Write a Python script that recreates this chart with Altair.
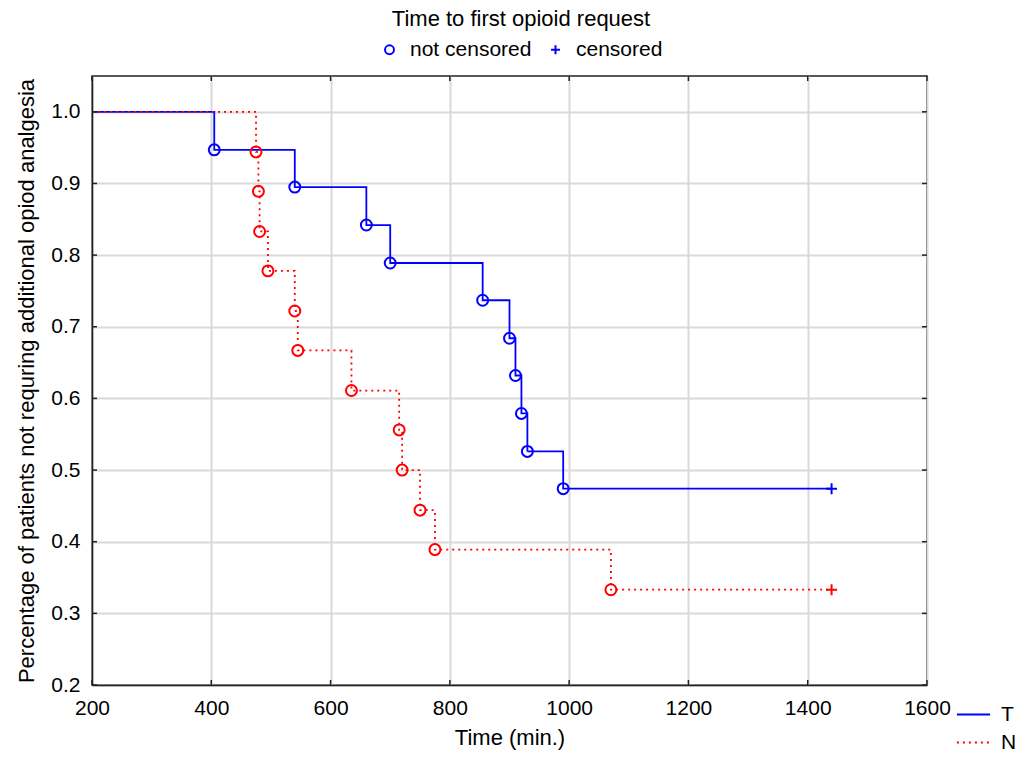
import altair as alt
import pandas as pd

# ---- data ----
x_ticks = [200, 400, 600, 800, 1000, 1200, 1400, 1600]
y_ticks = [0.2, 0.3, 0.4, 0.5, 0.6, 0.7, 0.8, 0.9, 1.0]

series_names = ["T", "N"]
start_time = 200
censor_time = 1440

T_times = [405, 540, 660, 700, 855, 900, 910, 920, 930, 990]
T_surv = [0.947, 0.895, 0.842, 0.789, 0.737, 0.684, 0.632, 0.579, 0.526, 0.474]

N_times = [475, 479, 481, 495, 540, 545, 635, 715, 720, 750, 775, 1070]
N_surv = [0.944, 0.889, 0.833, 0.778, 0.722, 0.667, 0.611, 0.556, 0.500, 0.444, 0.389, 0.333]

status_names = ["not censored", "censored"]

# ---- tables ----
line_rows, point_rows = [], []
for name, times, surv in [("T", T_times, T_surv), ("N", N_times, N_surv)]:
    line_rows.append(dict(series=name, time=start_time, surv=1.0))
    for t, s in zip(times, surv):
        line_rows.append(dict(series=name, time=t, surv=s))
        point_rows.append(dict(series=name, time=t, surv=s, status="not censored"))
    line_rows.append(dict(series=name, time=censor_time, surv=surv[-1]))
    point_rows.append(dict(series=name, time=censor_time, surv=surv[-1], status="censored"))
line_df = pd.DataFrame(line_rows)
point_df = pd.DataFrame(point_rows)
xt_df = pd.DataFrame({"time": x_ticks})
yt_df = pd.DataFrame({"surv": y_ticks})

W, H = 835, 609
FONT = "Liberation Sans"
FS = 21
TFS = 22

x_scale = alt.Scale(domain=[200, 1600], nice=False, zero=False)
y_scale = alt.Scale(domain=[0.2, 1.05], nice=False, zero=False)
color_scale = alt.Scale(domain=series_names, range=["#0000ff", "#ff0000"])
dash_scale = alt.Scale(domain=series_names, range=[[1, 0], [2, 4]])

axis_style = dict(labelFont=FONT, titleFont=FONT, labelFontSize=FS, titleFontSize=TFS,
                  labelColor="black", titleColor="black", titleFontWeight="normal",
                  domainColor="#222222", domainWidth=1.5, labelFlush=False,
                  gridColor="#d9d9d9", gridWidth=2, tickSize=0, grid=True)

x_axis = alt.Axis(values=x_ticks, title="Time (min.)", labelPadding=12, titlePadding=9,
                  format="d", **axis_style)
y_axis = alt.Axis(values=y_ticks, title="Percentage of patients not requring additional opiod analgesia",
                  labelPadding=12, titlePadding=12, format=".1f", labelLimit=300, titleLimit=800,
                  **axis_style)

series_legend = alt.Legend(title=None, orient="none", legendX=864, legendY=621,
                           symbolType="stroke", symbolSize=1100, symbolStrokeWidth=1.8,
                           labelFont=FONT, labelColor="black",
                           labelFontSize=FS, labelOffset=10, rowPadding=-7)

X = alt.X("time:Q", scale=x_scale, axis=x_axis)
Y = alt.Y("surv:Q", scale=y_scale, axis=y_axis)

def line_layer(name):
    return alt.Chart(line_df).transform_filter(alt.datum.series == name).mark_line(
        interpolate="step-after", strokeWidth=1.8
    ).encode(
        x=X, y=Y,
        color=alt.Color("series:N", scale=color_scale, legend=series_legend),
        strokeDash=alt.StrokeDash("series:N", scale=dash_scale, legend=series_legend),
    )

plus_path = "M-1,0L1,0M0,-1L0,1"
points = alt.Chart(point_df).mark_point(filled=False, strokeWidth=2, opacity=1).encode(
    x=X, y=Y,
    color=alt.Color("series:N", scale=color_scale, legend=None),
    shape=alt.Shape("status:N", scale=alt.Scale(domain=status_names, range=["circle", plus_path]),
                    legend=alt.Legend(title="Time to first opioid request", orient="none",
                                      direction="horizontal", legendX=287, legendY=-67,
                                      titleAnchor="middle", titleFontSize=TFS, titlePadding=8,
                                      titleFont=FONT, titleFontWeight="normal", titleColor="black",
                                      titleLimit=600, labelLimit=300,
                                      labelFont=FONT, labelColor="black",
                                      labelFontSize=FS, symbolSize=80, symbolStrokeWidth=2,
                                      symbolStrokeColor="#0000ff", symbolFillColor="transparent",
                                      labelOffset=10, columnPadding=13)),
    size=alt.value(120),
)

tick_style = dict(color="#222222", strokeWidth=1.5)
bottom_ticks = alt.Chart(xt_df).mark_rule(**tick_style).encode(
    x=X, y=alt.value(H), y2=alt.value(H - 5))
top_ticks = alt.Chart(xt_df).mark_rule(**tick_style).encode(
    x=X, y=alt.value(0), y2=alt.value(5))
left_ticks = alt.Chart(yt_df).mark_rule(**tick_style).encode(
    y=Y, x=alt.value(0), x2=alt.value(5))
right_ticks = alt.Chart(yt_df).mark_rule(**tick_style).encode(
    y=Y, x=alt.value(W), x2=alt.value(W - 5))

chart = alt.layer(
    line_layer("T"), line_layer("N"), points,
    bottom_ticks, top_ticks, left_ticks, right_ticks,
).properties(
    width=W, height=H,
    background="white",
    autosize=alt.AutoSizeParams(type="none"),
    padding={"left": 84, "top": 68, "right": 90, "bottom": 65},
).configure_view(
    stroke="#222222", strokeWidth=1.5
)

chart.save("out.html", embed_options={"renderer": "svg", "actions": False})
